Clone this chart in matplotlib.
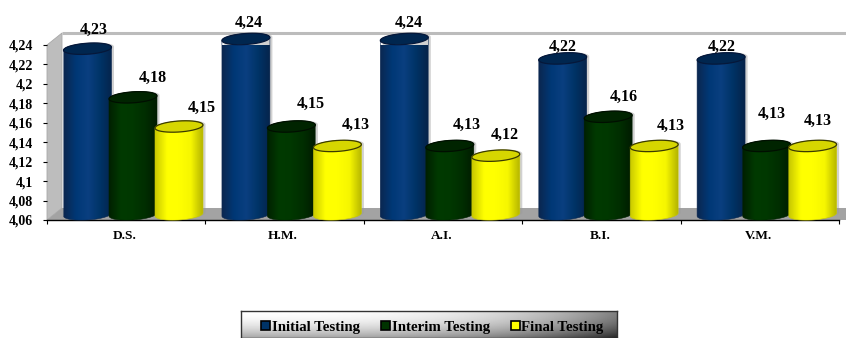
import numpy as np
import matplotlib
matplotlib.use("Agg")
import matplotlib.pyplot as plt
from matplotlib.colors import LinearSegmentedColormap
from matplotlib.patches import Patch, PathPatch, Polygon
from matplotlib.path import Path
from matplotlib.transforms import IdentityTransform

# Mean scores per subject and testing stage
subjects = ["D.S.", "H.M.", "A.I.", "B.I.", "V.M."]
initial_testing = [4.23, 4.24, 4.24, 4.22, 4.22]
interim_testing = [4.18, 4.15, 4.13, 4.16, 4.13]
final_testing = [4.15, 4.13, 4.12, 4.13, 4.13]
series_names = ["Initial Testing", "Interim Testing", "Final Testing"]
y_ticks = [4.06, 4.08, 4.1, 4.12, 4.14, 4.16, 4.18, 4.2, 4.22, 4.24]
y_tick_labels = ["4,06", "4,08", "4,1", "4,12", "4,14", "4,16", "4,18", "4,2", "4,22", "4,24"]

# Hand placement of the value labels, in pixels from each column's top
label_dx = [[6.5, 20, 23], [3, 19, 18], [4, 17, 9], [0, 16, 17], [1, 5, 5]]
label_dy = [[25, 25, 24.5], [22, 28.5, 27], [22, 27, 27], [18, 26, 26], [18, 38, 31]]

W, H = 846, 338
plt.rcParams["font.family"] = ["Liberation Serif", "DejaVu Serif"]
plt.rcParams["font.weight"] = "bold"

fig = plt.figure(figsize=(W / 100, H / 100), dpi=100, facecolor="white")
ax = fig.add_axes([47 / W, 1 - 220 / H, (839 - 47) / W, (220 - 45) / H])
ax.set_xlim(0, 5)
ax.set_ylim(4.06, 4.24)
ax.set_facecolor("none")

# Pseudo-3D depth of the plot box, in data units
depth_x = 15 / 158.4
depth_y = 12 / 972.0
right_edge = 5.2

ax.add_patch(Polygon([(0, 4.06), (depth_x, 4.06 + depth_y), (depth_x, 4.24 + depth_y), (0, 4.24)],
                     closed=True, fc="#bdbdbd", ec="#a8a8a8", lw=0.6, clip_on=False, zorder=1))
ax.add_patch(Polygon([(0, 4.06), (depth_x, 4.06 + depth_y), (right_edge, 4.06 + depth_y), (right_edge, 4.06)],
                     closed=True, fc="#a3a3a3", ec="none", clip_on=False, zorder=1))
ax.plot([depth_x, right_edge], [4.24 + depth_y] * 2, color="#bcbcbc", lw=2.2, clip_on=False,
        solid_capstyle="butt", zorder=1)

# Cylinder geometry in data units
half_w = 24 / 158.4
half_h = 5.5 / 972.0
tilt = 0.0105
top_lift = 6 / 972.0
base_lift = 5.5 / 972.0
offsets = [40.5 / 158.4, 86 / 158.4, 132 / 158.4]

body_maps = [
    LinearSegmentedColormap.from_list("b", ["#0b2750", "#003876", "#0a3f80", "#003366", "#06234a"]),
    LinearSegmentedColormap.from_list("g", ["#012001", "#003a00", "#003800", "#002e00", "#011c01"]),
    LinearSegmentedColormap.from_list("y", ["#c9c900", "#ffff00", "#ffff00", "#f6f600", "#b5b500"]),
]
cap_colors = ["#00264f", "#002400", "#d6d600"]
edge_colors = ["#06183a", "#000f00", "#3a3a00"]
swatch_colors = ["#003366", "#003300", "#ffff00"]


def arc(cx, cy, t0, t1, n=40):
    t = np.linspace(t0, t1, n)
    x = half_w * np.cos(t)
    return np.column_stack([cx + x, cy + half_h * np.sin(t) + tilt * x])


series = [initial_testing, interim_testing, final_testing]
ramp = np.linspace(0, 1, 128).reshape(1, -1)

for i in range(len(subjects)):
    for s, values in enumerate(series):
        v = values[i]
        cx = i + offsets[s]
        top = v + top_lift
        base = 4.06 + base_lift
        z = 3 + s
        outline = np.vstack([arc(cx, top, 0, np.pi), arc(cx, base, np.pi, 2 * np.pi)])

        # soft drop shadow along the right-hand side
        ax.add_patch(Polygon(outline + [2.5 / 158.4, 0.0005], closed=True, fc="#9a9a9a", ec="none",
                             alpha=0.45, clip_on=False, zorder=z - 0.2))
        body = PathPatch(Path(np.vstack([outline, outline[:1]]), closed=True),
                         transform=ax.transData, fc="none", ec="none")
        ax.add_patch(body)
        im = ax.imshow(ramp, cmap=body_maps[s], aspect="auto", zorder=z,
                       extent=(cx - half_w, cx + half_w, 4.05, top + 2 * half_h))
        im.set_clip_path(body)
        ax.add_patch(Polygon(outline, closed=True, fc="none", ec=body_maps[s](0.0), lw=0.4,
                             clip_on=False, zorder=z + 0.1))
        ax.add_patch(Polygon(arc(cx, top, 0, 2 * np.pi), closed=True, fc=cap_colors[s], ec=edge_colors[s],
                             lw=0.9, clip_on=False, zorder=z + 0.2))
        ax.annotate(f"{v:.2f}".replace(".", ","), xy=(cx, v),
                    xytext=(label_dx[i][s], label_dy[i][s]), textcoords="offset pixels",
                    ha="center", va="center", fontsize=11.5, fontweight="bold", color="black",
                    annotation_clip=False, zorder=20)

ax.set_xlim(0, 5)
ax.set_ylim(4.06, 4.24)

for side in ("top", "right"):
    ax.spines[side].set_visible(False)
ax.spines["left"].set_visible(False)
ax.spines["bottom"].set_linewidth(1.0)
ax.spines["bottom"].set_zorder(2)

ax.set_yticks(y_ticks)
ax.set_yticklabels(y_tick_labels, fontsize=10, fontweight="bold")
ax.tick_params(axis="y", length=3, width=0.8, pad=7)
ax.set_xticks(range(6))
ax.set_xticklabels([])
ax.set_xticks(np.arange(len(subjects)) + 0.49, labels=subjects, minor=True)
ax.tick_params(axis="x", which="major", length=3, width=0.8)
ax.tick_params(axis="x", which="minor", length=0, pad=7.5, labelsize=9.6)

# Legend strip with a diagonal grey shading; its lower edge runs off the figure
lx0, lx1, ly0, ly1 = 241, 617, 311, 338
lax = fig.add_axes([lx0 / W, 1 - ly1 / H, (lx1 - lx0) / W, (ly1 - ly0) / H])
gx, gy = np.meshgrid(np.linspace(0, 1, 200), np.linspace(0, 1, 40))
shade = 0.5 * gx ** 3 + 0.35 * (1 - gy) ** 2
lax.imshow(shade, cmap="gray_r", vmin=0, vmax=1, aspect="auto", extent=(0, 1, 0, 1), origin="lower")
lax.set_xticks([])
lax.set_yticks([])
for side, spine in lax.spines.items():
    spine.set_linewidth(1.0)
    spine.set_color("#333333")

handles = [Patch(fc=c, ec="black", lw=1.2) for c in swatch_colors]
legend = lax.legend(handles, series_names, ncol=3, frameon=False, fontsize=10.7,
                    handlelength=0.6, handleheight=0.6, handletextpad=0.12, columnspacing=1.42,
                    borderpad=0, borderaxespad=0, loc="center left",
                    bbox_to_anchor=(261, H - 327.5), bbox_transform=IdentityTransform())

fig.savefig("out.png", dpi=100, facecolor="white")
